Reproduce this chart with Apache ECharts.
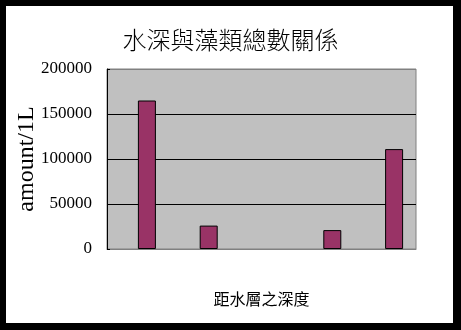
<!DOCTYPE html>
<html>
<head>
<meta charset="utf-8">
<script src="https://cdn.jsdelivr.net/npm/echarts@6/dist/echarts.min.js"></script>
<style>
html,body{margin:0;padding:0;background:#000;}
#c{width:461px;height:330px;}
</style>
</head>
<body>
<div id="c"></div>
<script>
var titleText = '水深與藻類總數關係';
var xName = '距水層之深度';
var yName = 'amount/1L';
var categories = ['1', '2', '3', '4', '5'];
var seriesA = [null, null, null, null, null];
var seriesB = [165000, 26000, null, 21000, 111000];
var yMin = 0, yMax = 200000, yStep = 50000;

var chart = echarts.init(document.getElementById('c'), null, {renderer: 'canvas'});
chart.setOption({
  backgroundColor: '#000',
  animation: false,
  graphic: [{
    type: 'rect', z: -10, silent: true,
    shape: {x: 6, y: 6, width: 447, height: 317},
    style: {fill: '#fff'}
  }],
  title: {
    text: titleText,
    left: 'center',
    top: 23,
    textStyle: {fontFamily: 'Noto Sans CJK TC', fontSize: 24, fontWeight: 300, color: '#000'}
  },
  grid: {
    left: 107, top: 69, width: 309, height: 180,
    show: true, backgroundColor: '#c0c0c0', borderColor: '#808080', borderWidth: 1
  },
  xAxis: {
    type: 'category',
    data: categories,
    name: xName,
    nameLocation: 'middle',
    nameGap: 42,
    nameMoveOverlap: false,
    nameTextStyle: {fontFamily: 'Noto Sans CJK TC', fontSize: 16, color: '#000'},
    axisLine: {show: true, lineStyle: {color: '#808080', width: 1}},
    axisTick: {show: false},
    axisLabel: {show: false},
    splitLine: {show: false}
  },
  yAxis: {
    type: 'value',
    min: yMin, max: yMax, interval: yStep,
    name: yName,
    nameLocation: 'middle',
    nameRotate: 90,
    nameGap: 68,
    nameMoveOverlap: false,
    nameTextStyle: {fontFamily: 'Liberation Serif', fontSize: 24, color: '#000'},
    axisLine: {show: true, lineStyle: {color: '#000', width: 1}},
    axisTick: {show: true, inside: true, length: 3, lineStyle: {color: '#000'}},
    axisLabel: {fontFamily: 'Liberation Serif', fontSize: 17, color: '#000', margin: 15,
      formatter: function (v) { return String(v); }},
    splitLine: {show: true, lineStyle: {color: ['#808080', '#000', '#000', '#000', '#808080'], width: 1}}
  },
  series: [
    {type: 'bar', data: seriesA, barWidth: 18, barGap: '0%',
     itemStyle: {color: '#9999ff', borderColor: '#000', borderWidth: 1}},
    {type: 'bar', data: seriesB, barWidth: 18, barGap: '0%',
     itemStyle: {color: '#993366', borderColor: '#000', borderWidth: 1}}
  ]
});
</script>
</body>
</html>
